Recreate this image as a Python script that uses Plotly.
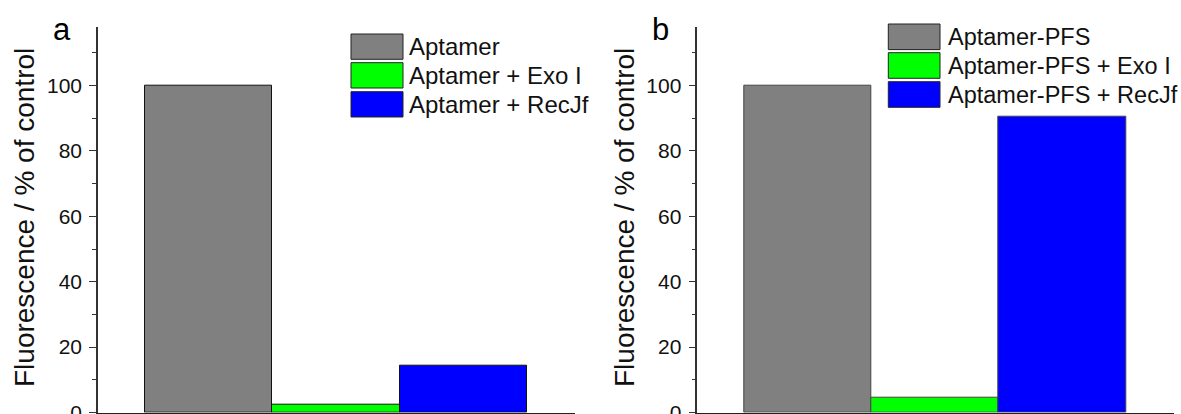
import plotly.graph_objects as go

# ---- data ----
cats_a = ["Aptamer", "Aptamer + Exo I", "Aptamer + RecJf"]
vals_a = [100.0, 2.3, 14.2]
cats_b = ["Aptamer-PFS", "Aptamer-PFS + Exo I", "Aptamer-PFS + RecJf"]
vals_b = [100.0, 4.65, 90.5]
colors = ["#808080", "#00FF00", "#0000FF"]
y_ticks = [0, 20, 40, 60, 80, 100]
panel_labels = ["a", "b"]
y_title = "Fluorescence / % of control"

W, H = 1181, 414
FONT = "Arial, Liberation Sans, sans-serif"

def px(x):
    return x / W

def py(y):
    return (H - y) / H

fig = go.Figure()

fig.add_trace(go.Bar(x=cats_a, y=vals_a, width=1.0, marker=dict(color=colors, line=dict(color="#111111", width=1)),
                     xaxis="x", yaxis="y", showlegend=False, hoverinfo="x+y"))
fig.add_trace(go.Bar(x=cats_b, y=vals_b, width=1.0, marker=dict(color=colors, line=dict(color="#444444", width=1)),
                     xaxis="x2", yaxis="y2", showlegend=False, hoverinfo="x+y"))

ydom = [py(412.5), py(26.7)]
xdom_a = [px(98), px(575)]
xdom_b = [px(697.3), px(1174)]

xcommon = dict(type="category", range=[-0.869, 2.877], showticklabels=False, ticks="", showgrid=False,
               zeroline=False, showline=True, linecolor="#222222", linewidth=2, automargin=False, fixedrange=True)
ycommon = dict(range=[0, 118], tickvals=y_ticks, ticks="outside", ticklen=7, tickwidth=1, tickcolor="#333333",
               showline=True, linecolor="#333333", linewidth=1.5, showgrid=False, zeroline=False,
               tickfont=dict(family=FONT, size=21, color="#111111"), automargin=False,
               minor=dict(dtick=10, tick0=10, ticks="outside", ticklen=4, tickwidth=1, tickcolor="#333333", showgrid=False),
               ticklabelstandoff=3, ticklabeloverflow="allow")

fig.update_layout(
    width=W, height=H, margin=dict(l=0, r=0, t=0, b=0),
    paper_bgcolor="white", plot_bgcolor="white", template="none", bargap=0,
    xaxis=dict(domain=xdom_a, anchor="y", **xcommon),
    yaxis=dict(domain=ydom, anchor="x", **ycommon),
    xaxis2=dict(domain=xdom_b, anchor="y2", **xcommon),
    yaxis2=dict(domain=ydom, anchor="x2", **ycommon),
)

shapes = []
annotations = []

# legends (manual, large swatches)
legend_specs = [
    (cats_a, 351, 403, [34, 62.7, 91.7], 25.3, 407, 24),
    (cats_b, 888.3, 940, [24, 52.7, 81.7], 25.6, 946, 23.5),
]
for cats, x0, x1, tops, h, tx, fs in legend_specs:
    for cat, col, top in zip(cats, colors, tops):
        shapes.append(dict(type="rect", xref="paper", yref="paper", x0=px(x0), x1=px(x1), y0=py(top + h), y1=py(top),
                           fillcolor=col, line=dict(color="#222222", width=1)))
        annotations.append(dict(xref="paper", yref="paper", x=px(tx), y=py(top + h / 2), xanchor="left", yanchor="middle",
                                text=cat, showarrow=False, font=dict(family=FONT, size=fs, color="#111111")))

# panel labels and y titles
for lab, lx, tx in zip(panel_labels, [51, 650], [24, 624]):
    annotations.append(dict(xref="paper", yref="paper", x=px(lx), y=py(30), xanchor="left", yanchor="middle",
                            text=lab, showarrow=False, font=dict(family=FONT, size=31, color="#000000")))
    annotations.append(dict(xref="paper", yref="paper", x=px(tx), y=py(218), xanchor="center", yanchor="middle",
                            text=y_title, textangle=-90, showarrow=False, font=dict(family=FONT, size=28, color="#111111")))

fig.update_layout(shapes=shapes, annotations=annotations)
fig.write_html("out.html")
